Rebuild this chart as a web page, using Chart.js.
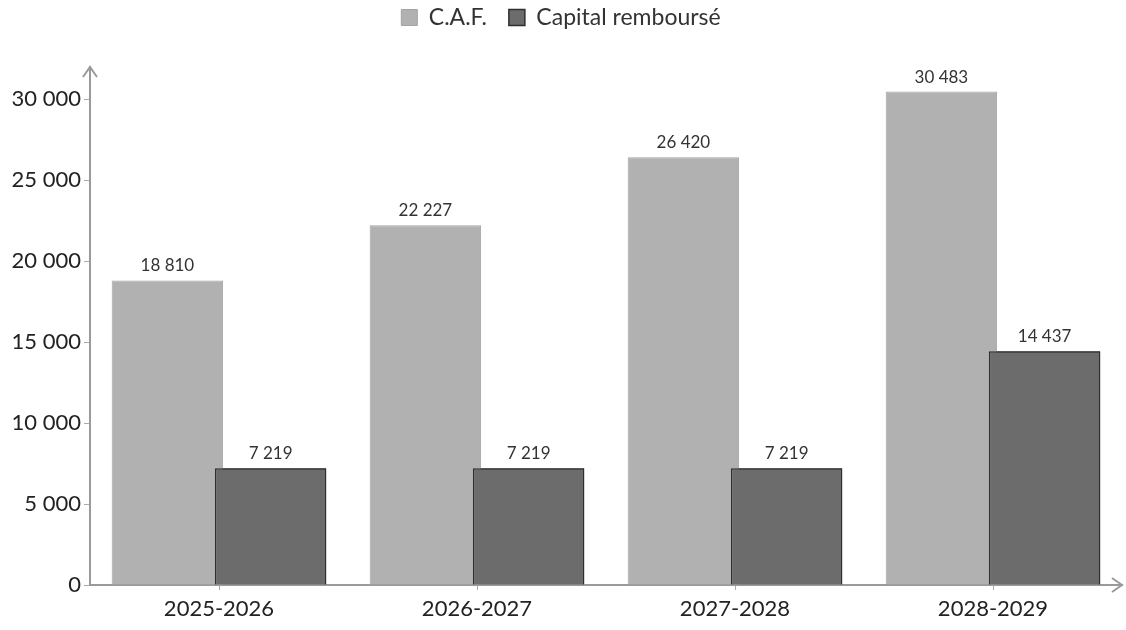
<!DOCTYPE html>
<html>
<head>
<meta charset="utf-8">
<script src="https://cdn.jsdelivr.net/npm/chart.js@4"></script>
<style>
  html, body { margin: 0; padding: 0; background: #fff; }
  #wrap { width: 1126px; height: 630px; }
</style>
</head>
<body>
<div id="wrap"><canvas id="chart"></canvas></div>
<script>
const categories = ["2025-2026", "2026-2027", "2027-2028", "2028-2029"];
const cafValues = [18810, 22227, 26420, 30483];
const capitalValues = [7219, 7219, 7219, 14437];
const yTicks = [0, 5000, 10000, 15000, 20000, 25000, 30000];

const FONT = "Lato, 'Open Sans', sans-serif";

function fmt(v) {
    return String(v).replace(/\B(?=(\d{3})+(?!\d))/g, " ");
}

// leave room under the legend, like the original
const legendSpace = {
    id: "legendSpace",
    beforeLayout(chart) {
        const lg = chart.legend;
        if (lg && !lg._patched) {
            const fit = lg.fit;
            lg.fit = function () {
                fit.call(this);
                this.height = 83;
            };
            lg._patched = true;
        }
    }
};

// dark bars are drawn over the light ones
const redrawCapital = {
    id: "redrawCapital",
    afterDatasetsDraw(chart) {
        const ctx = chart.ctx;
        ctx.save();
        chart.getDatasetMeta(1).controller.draw();
        ctx.restore();
    }
};

const valueLabels = {
    id: "valueLabels",
    afterDatasetsDraw(chart) {
        const ctx = chart.ctx;
        ctx.save();
        ctx.font = "17px " + FONT;
        ctx.fillStyle = "#333";
        ctx.textAlign = "center";
        ctx.textBaseline = "bottom";
        chart.data.datasets.forEach((ds, i) => {
            chart.getDatasetMeta(i).data.forEach((bar, j) => {
                ctx.fillText(fmt(ds.data[j]), bar.x, bar.y - 6);
            });
        });
        ctx.restore();
    }
};

const axisArrows = {
    id: "axisArrows",
    afterDraw(chart) {
        const ctx = chart.ctx;
        const x0 = chart.scales.x.left;
        const y0 = chart.scales.y.bottom;
        const top = chart.chartArea.top;
        const right = chart.chartArea.right;
        ctx.save();
        ctx.strokeStyle = "#9a9a9a";
        ctx.lineWidth = 2;
        ctx.beginPath();
        ctx.moveTo(x0 - 7, top + 10);
        ctx.lineTo(x0, top);
        ctx.lineTo(x0 + 7, top + 10);
        ctx.moveTo(right - 10, y0 - 7);
        ctx.lineTo(right, y0);
        ctx.lineTo(right - 10, y0 + 7);
        ctx.stroke();
        ctx.restore();
    }
};

new Chart(document.getElementById("chart"), {
    type: "bar",
    data: {
        labels: categories,
        datasets: [{
            label: "C.A.F.",
            data: cafValues,
            backgroundColor: "#b1b1b1",
            borderColor: "#a3a3a3",
            borderWidth: 1,
            categoryPercentage: 0.8,
            barPercentage: 1.08
        }, {
            label: "Capital remboursé",
            data: capitalValues,
            backgroundColor: "#6c6c6c",
            borderColor: "#2f2f2f",
            borderWidth: 1.5,
            categoryPercentage: 0.8,
            barPercentage: 1.08
        }]
    },
    options: {
        responsive: true,
        maintainAspectRatio: false,
        animation: false,
        layout: {
            padding: { top: -16, right: 4, left: 0, bottom: 0 }
        },
        plugins: {
            legend: {
                position: "top",
                labels: {
                    color: "#333",
                    boxWidth: 16,
                    boxHeight: 16,
                    padding: 22,
                    font: { size: 23, family: FONT }
                }
            },
            tooltip: { enabled: false }
        },
        scales: {
            x: {
                afterFit(scale) { scale.height = 45; },
                grid: {
                    display: true,
                    offset: false,
                    drawOnChartArea: false,
                    drawTicks: true,
                    tickLength: 5,
                    color: "#aaa"
                },
                border: { color: "#9a9a9a", width: 2 },
                ticks: {
                    color: "#222",
                    padding: 6,
                    font: { size: 22, family: FONT }
                }
            },
            y: {
                min: 0,
                max: 32000,
                afterFit(scale) { scale.width = 90; },
                afterBuildTicks(scale) {
                    scale.ticks = yTicks.map(v => ({ value: v }));
                },
                grid: {
                    display: true,
                    drawOnChartArea: false,
                    drawTicks: true,
                    tickLength: 6,
                    color: "#aaa"
                },
                border: { color: "#9a9a9a", width: 2 },
                ticks: {
                    color: "#222",
                    padding: 3,
                    font: { size: 22, family: FONT },
                    callback: v => fmt(v)
                }
            }
        }
    },
    plugins: [legendSpace, redrawCapital, valueLabels, axisArrows]
});
</script>
</body>
</html>
